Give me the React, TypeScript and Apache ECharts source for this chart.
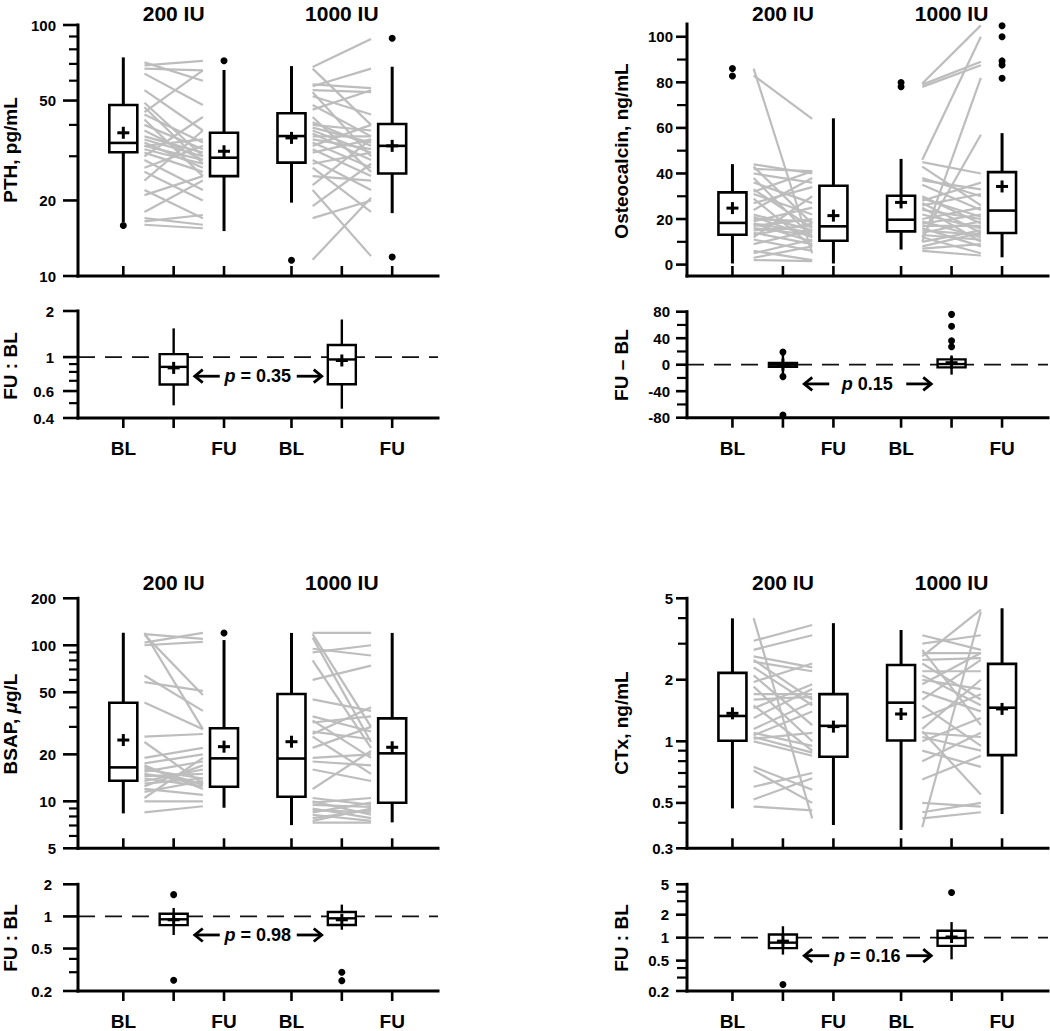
import React, { useEffect, useRef } from 'react';
import * as echarts from 'echarts';

const FONT = '"Liberation Sans", Arial, Helvetica, sans-serif';
const POS = [1, 2, 3, 4.34, 5.34, 6.34];
const X_MIN = 0.1;
const X_MAX = 7.25;
const X_TICK_LABELS = ['BL', '', 'FU', 'BL', '', 'FU'];
const GROUPS = ['200 IU', '1000 IU'];

// ---------- PTH ----------
const pthMajor = [10, 20, 50, 100];
const pthMinor = [30, 40, 60, 70, 80, 90];
// [min, q1, median, q3, max, mean]  BL200, FU200, BL1000, FU1000
const pthBoxes = [
  [16.4, 31.1, 33.9, 48, 74.3, 37.2],
  [15.1, 25, 29.6, 37.2, 66.2, 31.4],
  [19.6, 28.3, 36.1, 44.5, 68.6, 35.5],
  [17.8, 25.6, 33, 40.3, 68.2, 33],
];
const pthOutliers = [[15.9], [72], [11.55], [88.5, 11.9]];
const pthLines200 = [[71, 60], [69, 72], [67, 66], [64, 48], [55, 38], [49, 30], [47, 28], [45, 66], [44, 34], [42, 25], [40, 32], [38, 29], [36, 31], [35, 30], [34, 27], [33, 35], [33, 29], [32, 28], [31, 26], [30, 43], [29, 22], [27, 33], [26, 20], [24, 38], [22, 17], [21, 25], [18, 24], [17, 16], [16.5, 17.5], [16, 15.5]];
const pthLines1000 = [[68, 88], [67, 40], [58, 56], [57, 67], [55, 54], [54, 30], [52, 44], [48, 36], [46, 55], [43, 26], [41, 33], [40, 38], [39, 34], [38, 31], [37, 29], [36, 36], [35, 32], [34, 27], [33, 40], [32, 25], [31, 35], [29, 22], [28, 31], [27, 18], [25, 24], [23, 35], [22, 12], [19, 28], [17, 20], [11.6, 20.5]];
const pthRatioMajor = [0.4, 0.6, 1, 2];
const pthRatioMinor = [0.5, 0.7, 0.8, 0.9];
const pthRatioBoxes = [
  [0.484, 0.662, 0.863, 1.045, 1.54, 0.85],
  [0.46, 0.664, 0.965, 1.2, 1.76, 0.95],
];
const pthRatioOutliers = [[], []];

// ---------- Osteocalcin ----------
const ocMajor = [0, 20, 40, 60, 80, 100];
const ocMinor = [10, 30, 50, 70, 90];
const ocBoxes = [
  [0.5, 13.1, 18.3, 31.7, 44.1, 24.8],
  [0.5, 10.5, 16.8, 34.6, 64.2, 21.5],
  [6.6, 14.6, 19.7, 30.2, 46.4, 27.3],
  [3.2, 13.9, 23.7, 40.6, 57.7, 34.3],
];
const ocOutliers = [[86.1, 82.8], [], [79.9, 78.1], [104.8, 100, 89.4, 87.6, 81.8]];
const ocLines200 = [[86, 5], [83, 64], [44, 40], [43, 18], [42, 41], [40, 36], [38, 12], [36, 27], [33, 16], [32, 41], [31, 22], [29, 8], [27, 34], [24, 38], [22, 15], [21, 12], [20, 19], [19, 25], [18, 14], [18, 10], [17, 20], [16, 13], [15, 17], [14, 9], [13, 18], [12, 30], [11, 6], [9, 15], [6, 2], [5, 11], [3, 8], [2, 1.5]];
const ocLines1000 = [[79.5, 105], [79, 89], [78, 87.5], [46, 100], [10, 82], [12, 57], [45, 40], [43, 26], [38, 30], [37, 33], [35, 24], [30, 18], [29, 21], [28, 36], [27, 14], [26, 31], [25, 10], [24, 20], [22, 16], [20, 25], [19, 12], [18, 22], [17, 17], [16, 8], [15, 13], [14, 19], [13, 11], [12, 5], [10, 15], [8, 14], [7, 9], [6, 4]];
const ocDiffMajor = [-80, -40, 0, 40, 80];
const ocDiffMinor = [-60, -20, 20, 60];
const ocDiffBoxes = [
  [-16, -3, 0, 2.5, 17, 0],
  [-15, -4, 1, 8, 14, 3],
];
const ocDiffOutliers = [[19, -18, -76], [76, 58, 36, 27]];

// ---------- BSAP ----------
const bsapMajor = [5, 10, 20, 50, 100, 200];
const bsapMinor = [6, 7, 8, 9, 30, 40, 60, 70, 80, 90];
const bsapBoxes = [
  [8.37, 13.55, 16.5, 42.8, 120.3, 24.7],
  [9.1, 12.4, 18.85, 29.4, 108, 22.4],
  [7.04, 10.7, 18.8, 48.7, 120, 24.1],
  [7.33, 9.8, 20.3, 34, 120, 22.2],
];
const bsapOutliers = [[], [120], [], []];
const bsapLines200 = [[120, 29], [118, 110], [117, 48], [104, 120], [100, 105], [64, 38], [58, 51], [43, 29], [26, 27], [24, 13], [19, 22], [17.5, 20], [17, 12], [16, 14], [15.5, 18], [15, 13], [14.5, 15], [14, 12.5], [13.5, 16], [13, 14], [12, 11], [11.5, 13.5], [10.5, 19], [10, 10], [8.5, 9.3], [16.5, 12.8], [12.5, 17]];
const bsapLines1000 = [[120, 120], [118, 30], [112, 24], [95, 86], [90, 100], [80, 22], [60, 74], [45, 38], [35, 28], [33, 19], [32, 35], [28, 25], [27, 40], [26, 15], [22, 30], [19, 20], [18, 17], [16, 13.5], [12, 21], [10.5, 9.5], [10, 8.2], [9.8, 10.5], [9.5, 9.2], [9, 7.8], [8.8, 8.5], [8.5, 9.8], [8.2, 7.5], [7.8, 8.8], [7.5, 9], [7.3, 7.3]];
const bsapRatioMajor = [0.2, 0.5, 1, 2];
const bsapRatioMinor = [0.3, 0.4];
const bsapRatioBoxes = [
  [0.67, 0.829, 0.94, 1.06, 1.2, 0.93],
  [0.75, 0.83, 0.96, 1.1, 1.29, 0.93],
];
const bsapRatioOutliers = [[1.6, 0.252], [0.3, 0.25]];

// ---------- CTx ----------
const ctxMajor = [0.3, 0.5, 1, 2, 5];
const ctxMinor = [0.4, 0.6, 0.7, 0.8, 0.9, 3, 4];
const ctxBoxes = [
  [0.47, 1.006, 1.33, 2.16, 3.99, 1.37],
  [0.39, 0.84, 1.19, 1.7, 3.78, 1.18],
  [0.369, 1.01, 1.545, 2.36, 3.5, 1.36],
  [0.441, 0.856, 1.46, 2.39, 4.47, 1.44],
];
const ctxOutliers = [[], [], [], []];
const ctxLines200 = [[4.0, 0.42], [3.1, 3.7], [2.8, 3.3], [2.6, 2.3], [2.5, 1.6], [2.45, 2.2], [2.3, 1.5], [2.1, 1.2], [1.95, 2.4], [1.85, 1.0], [1.7, 1.7], [1.6, 1.65], [1.5, 0.9], [1.45, 1.9], [1.3, 1.8], [1.15, 1.55], [1.1, 0.95], [1.07, 1.4], [1.05, 0.88], [1.03, 1.1], [1.0, 0.85], [0.75, 0.58], [0.72, 0.5], [0.6, 0.7], [0.52, 0.66], [0.48, 0.46]];
const ctxLines1000 = [[3.3, 2.8], [3.0, 3.3], [2.8, 1.2], [2.7, 2.7], [2.6, 4.4], [2.5, 2.55], [2.4, 1.6], [2.2, 2.2], [2.1, 1.5], [2.0, 1.8], [1.9, 2.7], [1.75, 1.4], [1.6, 2.5], [1.5, 0.95], [1.3, 1.7], [1.15, 2.0], [1.12, 0.55], [1.1, 1.05], [1.05, 0.9], [1.0, 1.3], [0.9, 0.75], [0.8, 1.1], [0.65, 0.85], [0.5, 0.48], [0.45, 0.5], [0.38, 4.3], [0.42, 0.45]];
const ctxRatioMajor = [0.2, 0.5, 1, 2, 5];
const ctxRatioMinor = [0.3, 0.4, 3, 4];
const ctxRatioBoxes = [
  [0.6, 0.73, 0.86, 1.1, 1.41, 0.9],
  [0.52, 0.78, 0.99, 1.23, 1.6, 1.02],
];
const ctxRatioOutliers = [[0.243], [3.9]];

const P_TEXTS = ['{i|p}{n| = 0.35}', '{i|p}{n| 0.15}', '{i|p}{n| = 0.98}', '{i|p}{n| = 0.16}'];

// ---------- layout ----------
const PANELS = [
  {
    left: 78, width: 360, nameX: 10, titleY: 13, majorLen: 15,
    topName: '{a|PTH, pg/mL}', botName: '{a|FU : BL}', topNameY: 150, botNameY: 366,
    top: { top: 25, height: 251, type: 'log', min: 10, max: 100, major: pthMajor, minor: pthMinor, minorLen: 9, margin: 22, boxes: pthBoxes, outliers: pthOutliers, lines: [pthLines200, pthLines1000] },
    bot: { top: 311, height: 107, type: 'log', min: 0.4, max: 2, major: pthRatioMajor, minor: pthRatioMinor, minorLen: 9, margin: 24, boxes: pthRatioBoxes, outliers: pthRatioOutliers, ref: 1, pText: P_TEXTS[0], pY: 0.75 },
  },
  {
    left: 687, width: 361, nameX: 621, titleY: 13, majorLen: 11,
    topName: '{a|Osteocalcin, ng/mL}', botName: '{a|FU \u2013 BL}', topNameY: 151, botNameY: 365,
    top: { top: 24, height: 252, type: 'value', min: -5, max: 105.6, major: ocMajor, minor: ocMinor, minorLen: 10, margin: 14, boxes: ocBoxes, outliers: ocOutliers, lines: [ocLines200, ocLines1000] },
    bot: { top: 311.7, height: 106, type: 'value', min: -80, max: 80, major: ocDiffMajor, minor: ocDiffMinor, minorLen: 10, margin: 17, boxes: ocDiffBoxes, outliers: ocDiffOutliers, ref: 0, pText: P_TEXTS[1], pY: -29 },
  },
  {
    left: 78, width: 360, nameX: 10, titleY: 582, majorLen: 15,
    topName: '{a|BSAP, }{b|\u03bc}{a|g/L}', botName: '{a|FU : BL}', topNameY: 724, botNameY: 938,
    top: { top: 598.3, height: 250, type: 'log', min: 5, max: 200, major: bsapMajor, minor: bsapMinor, minorLen: 9, margin: 22, boxes: bsapBoxes, outliers: bsapOutliers, lines: [bsapLines200, bsapLines1000] },
    bot: { top: 884.3, height: 109, type: 'log', min: 0.2, max: 2, major: bsapRatioMajor, minor: bsapRatioMinor, minorLen: 9, margin: 26, boxes: bsapRatioBoxes, outliers: bsapRatioOutliers, ref: 1, pText: P_TEXTS[2], pY: 0.67 },
  },
  {
    left: 687, width: 361, nameX: 621, titleY: 582, majorLen: 11,
    topName: '{a|CTx, ng/mL}', botName: '{a|FU : BL}', topNameY: 723, botNameY: 938,
    top: { top: 598.3, height: 250, type: 'log', min: 0.3, max: 5, major: ctxMajor, minor: ctxMinor, minorLen: 9, margin: 14, boxes: ctxBoxes, outliers: ctxOutliers, lines: [ctxLines200, ctxLines1000] },
    bot: { top: 884.3, height: 109, type: 'log', min: 0.2, max: 5, major: ctxRatioMajor, minor: ctxRatioMinor, minorLen: 10, margin: 18, boxes: ctxRatioBoxes, outliers: ctxRatioOutliers, ref: 1, pText: P_TEXTS[3], pY: 0.58 },
  },
];

const BOX_W = 28;
const LINE_INSET = 0.42;
const X_TICK_LEN = 10;
const BLACK = '#000';
const GRAY = '#bdbdbd';

const makeBoxRender = (lw: number, ww: number) => (params: any, api: any) => {
  const x = api.value(0);
  const pt = (k: number) => api.coord([x, api.value(k)]);
  const lo = pt(1), q1 = pt(2), md = pt(3), q3 = pt(4), hi = pt(5), mn = pt(6);
  const cx = lo[0];
  const hw = BOX_W / 2;
  return {
    type: 'group',
    children: [
      { type: 'line', shape: { x1: cx, y1: hi[1], x2: cx, y2: q3[1] }, style: { stroke: BLACK, lineWidth: ww } },
      { type: 'line', shape: { x1: cx, y1: q1[1], x2: cx, y2: lo[1] }, style: { stroke: BLACK, lineWidth: ww } },
      { type: 'rect', shape: { x: cx - hw, y: q3[1], width: BOX_W, height: q1[1] - q3[1] }, style: { fill: '#fff', stroke: BLACK, lineWidth: lw } },
      { type: 'line', shape: { x1: cx - hw, y1: md[1], x2: cx + hw, y2: md[1] }, style: { stroke: BLACK, lineWidth: lw } },
      { type: 'line', shape: { x1: cx - 6, y1: mn[1], x2: cx + 6, y2: mn[1] }, style: { stroke: BLACK, lineWidth: 3 } },
      { type: 'line', shape: { x1: cx, y1: mn[1] - 6, x2: cx, y2: mn[1] + 6 }, style: { stroke: BLACK, lineWidth: 3 } },
    ],
  };
};

const lineRender = (params: any, api: any) => {
  const a = api.coord([api.value(0), api.value(1)]);
  const b = api.coord([api.value(2), api.value(3)]);
  return { type: 'line', shape: { x1: a[0], y1: a[1], x2: b[0], y2: b[1] }, style: { stroke: GRAY, lineWidth: 2.2 } };
};

// axis frame (left + bottom lines) drawn from the grid's coordinate system
const frameRender = (params: any, api: any) => {
  const cs = params.coordSys;
  const st = { stroke: BLACK, lineWidth: 3, lineCap: 'square' };
  return {
    type: 'group',
    children: [
      { type: 'line', shape: { x1: cs.x, y1: cs.y, x2: cs.x, y2: cs.y + cs.height }, style: st },
      { type: 'line', shape: { x1: cs.x, y1: cs.y + cs.height, x2: cs.x + cs.width, y2: cs.y + cs.height }, style: st },
    ],
  };
};

// ticks: kind 0 = y major, 1 = y minor, 2 = x tick
const makeTickRender = (majorLen: number, minorLen: number, xInside: boolean) => (params: any, api: any) => {
  const p = api.coord([api.value(0), api.value(1)]);
  const kind = api.value(2);
  if (kind === 2) {
    const y2 = xInside ? p[1] - X_TICK_LEN : p[1] + X_TICK_LEN;
    return { type: 'line', shape: { x1: p[0], y1: p[1], x2: p[0], y2 }, style: { stroke: BLACK, lineWidth: 2.6 } };
  }
  const len = kind === 0 ? majorLen : minorLen;
  return { type: 'line', shape: { x1: p[0] - len, y1: p[1], x2: p[0], y2: p[1] }, style: { stroke: BLACK, lineWidth: kind === 0 ? 2.6 : 2.2 } };
};

const makeAnnotRender = (text: string) => (params: any, api: any) => {
  const c = api.coord([api.value(0), api.value(1)]);
  const cx = c[0], cy = c[1];
  const ls = { stroke: BLACK, lineWidth: 2.8, fill: null };
  return {
    type: 'group',
    children: [
      {
        type: 'text', x: cx, y: cy,
        style: {
          text, textAlign: 'center', textVerticalAlign: 'middle', fill: BLACK,
          fontFamily: FONT, fontWeight: 'bold', fontSize: 18,
          rich: {
            i: { fontFamily: FONT, fontWeight: 'bold', fontStyle: 'italic', fontSize: 18 },
            n: { fontFamily: FONT, fontWeight: 'bold', fontSize: 18 },
          },
        },
      },
      { type: 'line', shape: { x1: cx - 63, y1: cy, x2: cx - 38, y2: cy }, style: ls },
      { type: 'polyline', shape: { points: [[cx - 55, cy - 6.5], [cx - 63, cy], [cx - 55, cy + 6.5]] }, style: ls },
      { type: 'line', shape: { x1: cx + 39, y1: cy, x2: cx + 64, y2: cy }, style: ls },
      { type: 'polyline', shape: { points: [[cx + 56, cy - 6.5], [cx + 64, cy], [cx + 56, cy + 6.5]] }, style: ls },
    ],
  };
};

const fmtNum = (v: number) => String(parseFloat(Number(v).toPrecision(6)));
const xToPx = (p: any, x: number) => p.left + ((x - X_MIN) * p.width) / (X_MAX - X_MIN);

function buildOption() {
  const grid: any[] = [];
  const xAxis: any[] = [];
  const yAxis: any[] = [];
  const series: any[] = [];
  const graphic: any[] = [];

  PANELS.forEach((p) => {
    [p.top, p.bot].forEach((g: any, gi) => {
      const isTop = gi === 0;
      const idx = grid.length;
      grid.push({ left: p.left, top: g.top, width: p.width, height: g.height, containLabel: false });
      xAxis.push({
        type: 'value', gridIndex: idx, min: X_MIN, max: X_MAX,
        axisLine: { show: false, onZero: false },
        axisTick: { show: false },
        axisLabel: isTop
          ? { show: false }
          : {
              show: true, customValues: [POS[0], POS[2], POS[3], POS[5]], margin: 21,
              fontFamily: FONT, fontWeight: 'bold', fontSize: 19, color: BLACK,
              formatter: (v: number) => {
                const i = POS.findIndex((q) => Math.abs(q - v) < 1e-6);
                return i >= 0 ? X_TICK_LABELS[i] : '';
              },
            },
        splitLine: { show: false },
      });
      const yA: any = {
        type: g.type, gridIndex: idx, min: g.min, max: g.max,
        axisLine: { show: false, onZero: false },
        axisTick: { show: false },
        axisLabel: {
          show: true, customValues: g.major, margin: g.margin,
          fontFamily: FONT, fontWeight: 'bold', fontSize: 15, color: BLACK, formatter: fmtNum,
        },
        splitLine: { show: false },
      };
      if (g.type === 'log') yA.logBase = 10;
      yAxis.push(yA);

      // frame lines
      series.push({
        type: 'custom', xAxisIndex: idx, yAxisIndex: idx, silent: true, z: 7,
        renderItem: frameRender, data: [[X_MIN, g.min]], encode: { x: 0, y: 1 },
      });
      // ticks
      const tickData: any[] = [];
      g.major.forEach((v: number) => tickData.push([X_MIN, v, 0]));
      g.minor.forEach((v: number) => tickData.push([X_MIN, v, 1]));
      POS.forEach((x) => tickData.push([x, g.min, 2]));
      series.push({
        type: 'custom', xAxisIndex: idx, yAxisIndex: idx, silent: true, z: 7,
        renderItem: makeTickRender(p.majorLen, g.minorLen, isTop),
        data: tickData, encode: { x: 0, y: 1 },
      });

      const boxPos = isTop ? [POS[0], POS[2], POS[3], POS[5]] : [POS[1], POS[4]];

      if (isTop) {
        const lineData: any[] = [];
        g.lines.forEach((pairs: number[][], k: number) => {
          const x0 = POS[k * 3] + LINE_INSET;
          const x1 = POS[k * 3 + 2] - LINE_INSET;
          pairs.forEach((pr) => lineData.push([x0, pr[0], x1, pr[1]]));
        });
        series.push({
          type: 'custom', xAxisIndex: idx, yAxisIndex: idx, silent: true, z: 2,
          renderItem: lineRender, data: lineData, encode: { x: [0, 2], y: [1, 3] },
        });
      } else {
        series.push({
          type: 'line', xAxisIndex: idx, yAxisIndex: idx, silent: true, z: 1,
          symbol: 'none', showSymbol: false,
          data: [[X_MIN, g.ref], [X_MAX, g.ref]],
          lineStyle: { color: '#111', width: 1.8, type: [17, 10] },
        });
        series.push({
          type: 'custom', xAxisIndex: idx, yAxisIndex: idx, silent: true, z: 6,
          renderItem: makeAnnotRender(g.pText),
          data: [[(POS[1] + POS[4]) / 2, g.pY]], encode: { x: 0, y: 1 },
        });
      }

      series.push({
        type: 'custom', xAxisIndex: idx, yAxisIndex: idx, silent: true, z: 4,
        renderItem: isTop ? makeBoxRender(2.6, 3) : makeBoxRender(2.4, 2.4),
        data: g.boxes.map((b: number[], k: number) => [boxPos[k], ...b]),
        encode: { x: 0, y: [1, 2, 3, 4, 5, 6] },
      });

      const outData: any[] = [];
      g.outliers.forEach((arr: number[], k: number) => arr.forEach((v) => outData.push([boxPos[k], v])));
      series.push({
        type: 'scatter', xAxisIndex: idx, yAxisIndex: idx, silent: true, z: 5,
        symbol: 'circle', symbolSize: 7, itemStyle: { color: BLACK, opacity: 1 },
        data: outData,
      });
    });

    // group titles
    GROUPS.forEach((t, k) => {
      graphic.push({
        type: 'text', x: xToPx(p, POS[k * 3 + 1]), y: p.titleY,
        style: { text: t, fill: BLACK, fontFamily: FONT, fontWeight: 'bold', fontSize: 21, textAlign: 'center', textVerticalAlign: 'middle' },
      });
    });
    // axis names
    const rich = {
      a: { fontFamily: FONT, fontWeight: 'bold', fontSize: 19 },
      b: { fontFamily: FONT, fontWeight: 'bold', fontStyle: 'italic', fontSize: 19 },
    };
    [[p.topName, p.topNameY], [p.botName, p.botNameY]].forEach(([txt, yy]) => {
      graphic.push({
        type: 'text', x: p.nameX, y: yy, rotation: Math.PI / 2,
        style: { text: txt, rich, fill: BLACK, fontFamily: FONT, fontWeight: 'bold', fontSize: 19, textAlign: 'center', textVerticalAlign: 'middle' },
      });
    });
  });

  return { animation: false, backgroundColor: '#fff', grid, xAxis, yAxis, series, graphic };
}

export default function App() {
  const ref = useRef<HTMLDivElement>(null);
  useEffect(() => {
    if (!ref.current) return;
    const chart = echarts.init(ref.current, null, { renderer: 'svg' });
    chart.setOption(buildOption() as any);
    return () => chart.dispose();
  }, []);
  return <div ref={ref} style={{ position: 'absolute', left: 0, top: 0, width: 1050, height: 1031, background: '#fff' }} />;
}
